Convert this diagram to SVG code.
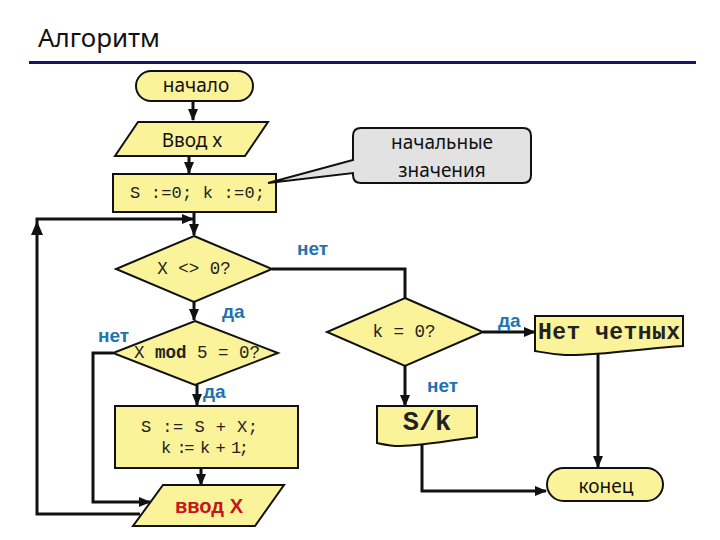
<svg xmlns="http://www.w3.org/2000/svg" width="720" height="540" viewBox="0 0 720 540">
<style>
.shape{fill:#FAF39A;stroke:#111;stroke-width:2}
.callout{fill:#E2E2E2;stroke:#111;stroke-width:2}
.sans{font-family:"Noto Sans","Open Sans","Liberation Sans",sans-serif;fill:#111}
.mono{font-family:"Liberation Mono","Courier New",monospace;fill:#222}
.lbl{font-family:"Liberation Sans",Arial,sans-serif;font-weight:bold;font-size:19px;fill:#1E73B0}
.conn{fill:none;stroke:#111;stroke-width:3;stroke-linejoin:miter}
</style>
<defs>
<marker id="arr" markerWidth="12" markerHeight="10" refX="11" refY="5" orient="auto" markerUnits="userSpaceOnUse">
<path d="M0,0 L12,5 L0,10 Z" fill="#111"/>
</marker>
</defs>
<rect width="720" height="540" fill="#fff"/>
<g id="title">
<text x="38" y="47" class="sans" font-size="25" textLength="122" lengthAdjust="spacingAndGlyphs">Алгоритм</text>
<rect x="29" y="61" width="667" height="3" fill="#15156B"/>
</g>
<g id="connectors">
<path class="conn" d="M193,101 V120" marker-end="url(#arr)"/>
<path class="conn" d="M189,156 V173" marker-end="url(#arr)"/>
<path class="conn" d="M194,212 V235" marker-end="url(#arr)"/>
<path class="conn" d="M140,514 H37 V219 H193" marker-end="url(#arr)"/>
<path d="M31,235 L37,221 L43,235 Z" fill="#111"/>
<path class="conn" d="M272,269 H405 V298"/>
<path class="conn" d="M194,302 V320" marker-end="url(#arr)"/>
<path class="conn" d="M113,353 H93 V502 H150" marker-end="url(#arr)"/>
<path class="conn" d="M197,385 V405" marker-end="url(#arr)"/>
<path class="conn" d="M201,468 V485" marker-end="url(#arr)"/>
<path class="conn" d="M483,332 H535" marker-end="url(#arr)"/>
<path class="conn" d="M405,366 V406" marker-end="url(#arr)"/>
<path class="conn" d="M598,352 V467" stroke-width="2.5" marker-end="url(#arr)"/>
<path class="conn" d="M422,445 V491 H546" stroke-width="2.5" marker-end="url(#arr)"/>
</g>
<g id="start">
<rect class="shape" x="136" y="71" width="117" height="30" rx="15"/>
<text x="196" y="92" class="sans" font-size="19" text-anchor="middle">начало</text>
</g>
<g id="input-x">
<polygon class="shape" points="138,122 268,122 245,156 115,156"/>
<text x="192" y="147" class="sans" font-size="19" text-anchor="middle">Ввод x</text>
</g>
<g id="init">
<rect class="shape" x="113" y="174" width="163" height="38"/>
<text x="130" y="198" class="mono" font-size="17" textLength="135">S :=0;  k :=0;</text>
</g>
<g id="callout">
<path class="callout" d="M361,128 H523 Q531,128 531,136 V175 Q531,183 523,183 H361 Q353,183 353,175 V173 L268,183 L353,160 V136 Q353,128 361,128 Z"/>
<text x="442" y="149" class="sans" font-size="19" text-anchor="middle" fill="#222">начальные</text>
<text x="442" y="177" class="sans" font-size="19" text-anchor="middle" fill="#222">значения</text>
</g>
<g id="cond-x">
<polygon class="shape" points="194,236 272,269 194,302 116,269"/>
<text x="194" y="274" class="mono" font-size="17.5" text-anchor="middle">X &lt;&gt; 0?</text>
</g>
<g id="cond-mod">
<polygon class="shape" points="195,321 278,353 195,385 113,353"/>
<text x="197" y="358" class="mono" font-size="17.5" text-anchor="middle">X <tspan font-weight="bold">mod</tspan> 5 = 0?</text>
</g>
<g id="update">
<rect class="shape" x="115" y="406" width="183" height="62"/>
<text x="141" y="432" class="mono" font-size="17" textLength="117">S := S + X;</text>
<text x="161" y="453" class="mono" font-size="17" textLength="88">k := k + 1;</text>
</g>
<g id="input-X2">
<polygon class="shape" points="163,485 284,485 255,526 133,526"/>
<text x="175" y="513" font-family="Liberation Sans,Arial,sans-serif" font-weight="bold" font-size="20" fill="#C8141C" textLength="68" lengthAdjust="spacingAndGlyphs">ввод X</text>
</g>
<g id="cond-k">
<polygon class="shape" points="405,298 483,332 405,366 327,332"/>
<text x="404" y="337" class="mono" font-size="17.5" text-anchor="middle">k = 0?</text>
</g>
<g id="no-even">
<path class="shape" d="M535,316 H683 V346 C645,348 600,356 565,355 C550,354 541,352 535,351 Z"/>
<text x="538" y="339" class="mono" font-size="23" font-weight="bold" fill="#111" textLength="142">Нет четных</text>
</g>
<g id="result">
<path class="shape" d="M377,406 H477 V437 C455,440 420,446 400,446 C390,446 382,444 377,443 Z"/>
<text x="427" y="430" class="mono" font-size="27" font-weight="bold" fill="#111" text-anchor="middle">S/k</text>
</g>
<g id="end">
<rect class="shape" x="547" y="468" width="116" height="33" rx="16.5"/>
<text x="606" y="493" class="sans" font-size="19" text-anchor="middle">конец</text>
</g>
<g id="labels">
<text x="297" y="255" class="lbl">нет</text>
<text x="222" y="318" class="lbl">да</text>
<text x="98" y="342" class="lbl">нет</text>
<text x="203" y="398" class="lbl">да</text>
<text x="498" y="327" class="lbl">да</text>
<text x="427" y="392" class="lbl">нет</text>
</g>
</svg>
